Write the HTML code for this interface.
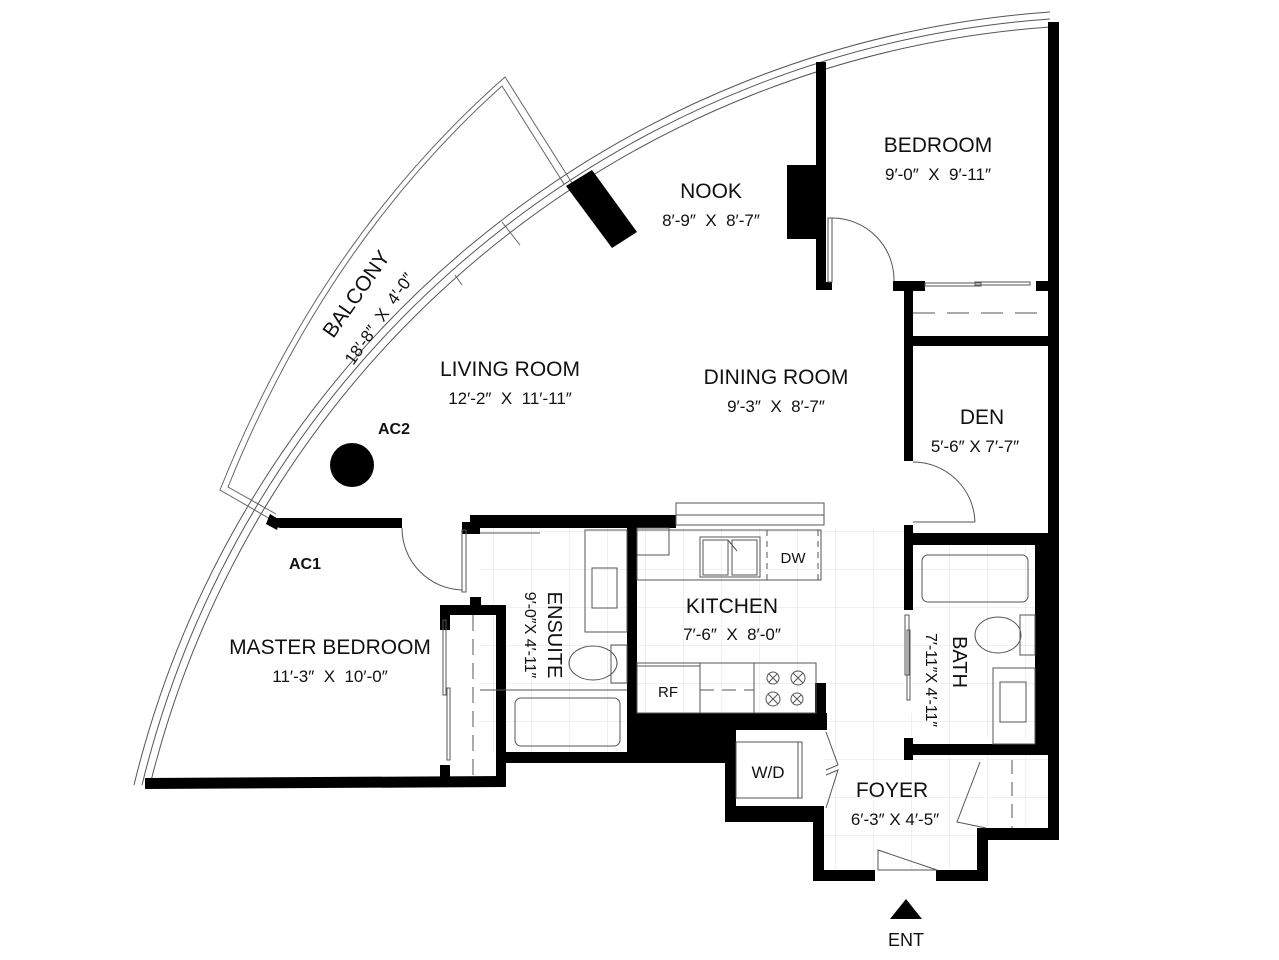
<!DOCTYPE html>
<html><head><meta charset="utf-8"><style>
html,body{margin:0;padding:0;background:#fff;}
svg{display:block;}
text{font-family:"Liberation Sans",sans-serif;fill:#111;}
</style></head><body>
<svg width="1279" height="960" viewBox="0 0 1279 960" xmlns="http://www.w3.org/2000/svg">
<defs>
<pattern id="tile" x="0" y="0" width="38" height="38" patternUnits="userSpaceOnUse">
<path d="M38 0V38H0" fill="none" stroke="#e2e2e2" stroke-width="1"/>
</pattern>
</defs>
<rect x="637" y="528" width="267" height="185" fill="url(#tile)"/>
<rect x="824" y="713" width="160" height="157" fill="url(#tile)"/>
<rect x="480" y="528" width="147" height="224" fill="url(#tile)"/>
<rect x="912" y="545" width="136" height="193" fill="url(#tile)"/>
<rect x="987" y="752" width="61" height="76" fill="url(#tile)"/>

<g fill="none" stroke="#555" stroke-width="1">
<path d="M150 785 A1000 1000 0 0 1 1050 27"/>
<path d="M142 785 A1008 1008 0 0 1 1050 19"/>
<path d="M134 785 A1016 1016 0 0 1 1050 12"/>
</g>
<g fill="none" stroke="#666" stroke-width="1">
<path d="M272 520 L220 490 Q320 240 505 77 L572 183"/>
<path d="M276 514 L228 487 Q326 244 502 86 L564 184"/>
</g>
<g stroke="#666" stroke-width="1">
<line x1="502" y1="222" x2="520" y2="245"/>
<line x1="455" y1="275" x2="462" y2="285"/>
</g>

<g fill="#000">
<rect x="1048" y="22" width="11" height="818"/>
<rect x="987" y="828" width="72" height="12"/>
<rect x="977" y="828" width="11" height="53"/>
<rect x="813" y="870" width="62" height="11"/>
<rect x="936" y="870" width="51" height="11"/>
<rect x="813" y="806" width="11" height="75"/>
<rect x="725" y="806" width="99" height="16"/>
<rect x="725" y="728" width="11" height="94"/>
<rect x="627" y="713" width="108" height="47"/>
<rect x="637" y="713" width="190" height="17"/>
<rect x="815" y="683" width="11" height="47"/>
<rect x="627" y="528" width="10" height="232"/>
<rect x="470" y="515" width="206" height="13"/>
<rect x="462" y="522" width="18" height="12"/>
<rect x="470" y="597" width="11" height="10"/>
<rect x="505" y="752" width="230" height="11"/>
<rect x="440" y="605" width="65" height="10"/>
<rect x="440" y="605" width="10" height="25"/>
<rect x="440" y="765" width="10" height="20"/>
<rect x="496" y="605" width="10" height="182"/>
<path d="M145 778 L505 776 L505 787 L145 789 Z"/>
<path d="M272 518 L402 518 L402 528 L280 528 L270 525 Z"/>
<path d="M270 514 L280 520 L277 530 L266 524 Z"/>
<path d="M566 186 L592 170 L637 232 L612 248 Z"/>
<rect x="787" y="165" width="32" height="74"/>
<rect x="816" y="62" width="10" height="228"/>
<rect x="816" y="282" width="16" height="8"/>
<rect x="893" y="281" width="32" height="10"/>
<rect x="1036" y="281" width="22" height="10"/>
<rect x="904" y="281" width="9" height="180"/>
<rect x="904" y="336" width="154" height="10"/>
<rect x="904" y="533" width="154" height="12"/>
<rect x="904" y="525" width="9" height="85"/>
<rect x="904" y="738" width="9" height="22"/>
<rect x="904" y="744" width="144" height="11"/>
<rect x="1035" y="533" width="23" height="222"/>
<circle cx="352" cy="465" r="22"/>
</g>

<g fill="none" stroke="#555" stroke-width="1">
<rect x="828" y="218" width="4" height="64"/>
<path d="M832 218 A62 62 0 0 1 894 281"/>
<rect x="925" y="283" width="56" height="3"/>
<rect x="975" y="282" width="55" height="3"/>
<line x1="913" y1="313" x2="1048" y2="313" stroke-dasharray="22,12"/>
<path d="M913 462 A62 62 0 0 1 975 522"/>
<line x1="913" y1="522" x2="975" y2="522"/>
<path d="M402 528 A62 62 0 0 0 462 590"/>
<rect x="462" y="530" width="4" height="62"/>
<line x1="480" y1="533" x2="540" y2="533"/>
<rect x="443" y="620" width="3" height="75"/>
<rect x="447" y="688" width="3" height="72"/>
<line x1="473" y1="615" x2="473" y2="776" stroke-dasharray="16,8"/>
<rect x="905" y="615" width="4" height="60"/>
<rect x="907" y="630" width="3" height="70"/>
<path d="M826 732 L838 765 L826 770 M826 775 L838 770 L826 808"/>
<path d="M980 762 L957 822 L986 828"/>
<line x1="1012" y1="760" x2="1012" y2="828" stroke-dasharray="14,8"/>
<path d="M878 870 L878 850 L937 870 Z"/>
</g>

<g fill="none" stroke="#555" stroke-width="1">
<rect x="676" y="503" width="148" height="22"/>
<line x1="676" y1="515" x2="824" y2="515"/>
<rect x="637" y="528" width="32" height="27"/>
<rect x="637" y="530" width="184" height="50"/>
<rect x="700" y="537" width="60" height="40"/>
<rect x="703" y="540" width="25" height="35"/>
<rect x="732" y="540" width="25" height="35"/>
<line x1="728" y1="540" x2="737" y2="551"/>
<line x1="767" y1="530" x2="767" y2="580" stroke-dasharray="6,5"/>
<line x1="818" y1="530" x2="818" y2="580" stroke-dasharray="6,5"/>
<rect x="637" y="663" width="63" height="50"/>
<line x1="637" y1="666" x2="700" y2="666"/>
<rect x="700" y="663" width="54" height="50"/>
<rect x="754" y="663" width="62" height="50"/>
<line x1="700" y1="690" x2="754" y2="690" stroke-dasharray="14,8"/>
<circle cx="773" cy="678" r="6"/><circle cx="798" cy="678" r="7"/>
<circle cx="773" cy="699" r="7"/><circle cx="797" cy="699" r="6"/>
<path d="M769 674l8 8m0-8l-8 8M793 673l10 10m0-10l-10 10M768 694l10 10m0-10l-10 10M793 695l8 8m0-8l-8 8"/>
<rect x="736" y="742" width="66" height="56"/>
<line x1="798" y1="742" x2="798" y2="798"/>
<rect x="585" y="530" width="42" height="102"/>
<rect x="592" y="568" width="25" height="40"/>
<rect x="611" y="645" width="16" height="38"/>
<ellipse cx="593" cy="663" rx="24" ry="17"/>
<line x1="480" y1="690" x2="627" y2="690"/>
<rect x="515" y="698" width="105" height="48" rx="6"/>
<rect x="922" y="555" width="106" height="47" rx="6"/>
<rect x="1020" y="615" width="15" height="40"/>
<ellipse cx="998" cy="635" rx="23" ry="18"/>
<rect x="993" y="668" width="42" height="76"/>
<rect x="1000" y="682" width="26" height="40"/>
</g>

<g text-anchor="middle">
<text x="938" y="152" font-size="21">BEDROOM</text>
<text x="938" y="180" font-size="17">9′-0″ &#160;X &#160;9′-11″</text>
<text x="711" y="198" font-size="21">NOOK</text>
<text x="711" y="226" font-size="17">8′-9″ &#160;X &#160;8′-7″</text>
<text x="510" y="376" font-size="21">LIVING ROOM</text>
<text x="510" y="404" font-size="17">12′-2″ &#160;X &#160;11′-11″</text>
<text x="776" y="384" font-size="21">DINING ROOM</text>
<text x="776" y="412" font-size="17">9′-3″ &#160;X &#160;8′-7″</text>
<text x="982" y="424" font-size="21">DEN</text>
<text x="975" y="452" font-size="17">5′-6″ X 7′-7″</text>
<text x="394" y="434" font-size="16" font-weight="bold">AC2</text>
<text x="305" y="569" font-size="16" font-weight="bold">AC1</text>
<text x="330" y="654" font-size="21">MASTER BEDROOM</text>
<text x="330" y="682" font-size="17">11′-3″ &#160;X &#160;10′-0″</text>
<text x="732" y="613" font-size="21">KITCHEN</text>
<text x="732" y="640" font-size="17">7′-6″ &#160;X &#160;8′-0″</text>
<text x="793" y="563" font-size="15">DW</text>
<text x="668" y="697" font-size="15">RF</text>
<text x="768" y="778" font-size="17">W/D</text>
<text x="892" y="797" font-size="21">FOYER</text>
<text x="895" y="825" font-size="17">6′-3″ X 4′-5″</text>
<text x="906" y="946" font-size="18">ENT</text>
<text transform="translate(548,635) rotate(90)" font-size="20">ENSUITE</text>
<text transform="translate(525,635) rotate(90)" font-size="16">9′-0″X 4′-11″</text>
<text transform="translate(953,662) rotate(90)" font-size="20">BATH</text>
<text transform="translate(926,680) rotate(90)" font-size="16">7′-11″X 4′-11″</text>
<text transform="translate(362,298) rotate(-55)" font-size="21">BALCONY</text>
<text transform="translate(384,322) rotate(-55)" font-size="17">18′-8″ &#160;X &#160;4′-0″</text>
</g>
<path d="M906 899 L922 919 L890 919 Z" fill="#000"/>
</svg>
</body></html>
